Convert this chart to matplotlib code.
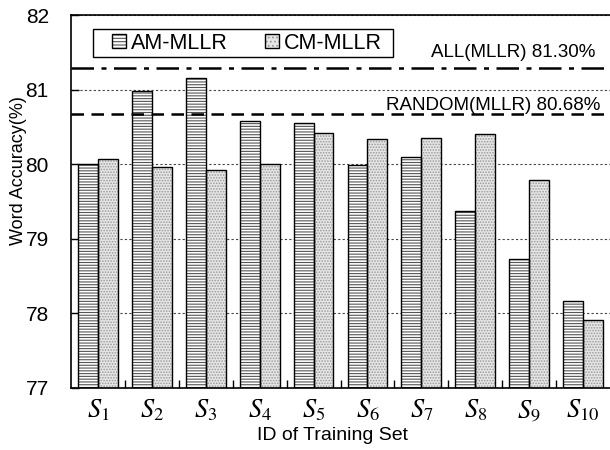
import matplotlib
matplotlib.use("Agg")
import matplotlib.pyplot as plt
from matplotlib.patches import Patch, Rectangle
from matplotlib.legend_handler import HandlerTuple
import numpy as np

plt.rcParams["font.family"] = ["Liberation Sans", "DejaVu Sans"]
plt.rcParams["mathtext.fontset"] = "stix"
plt.rcParams["hatch.linewidth"] = 0.8

# word accuracy (%) per training subset
sets = [r"$S_{%d}$" % i for i in range(1, 11)]
am_mllr = [80.01, 80.98, 81.16, 80.58, 80.56, 79.99, 80.10, 79.37, 78.73, 78.17]
cm_mllr = [80.07, 79.97, 79.92, 80.01, 80.42, 80.34, 80.36, 80.41, 79.79, 77.91]
all_mllr = 81.30
random_mllr = 80.68

ymin, ymax = 77, 82
x = np.arange(len(sets))
w = 0.37

fig = plt.figure(figsize=(6.1, 4.5), dpi=100)
ax = fig.add_axes([0.1164, 0.1378, 0.8836, 0.8278])

am_h = np.array(am_mllr) - ymin
cm_h = np.array(cm_mllr) - ymin

# fill + hatch first (grey hatch), then black outlines on top
ax.bar(x - w / 2, am_h, w, bottom=ymin, color="white", edgecolor="#555555",
       hatch="------", linewidth=0, zorder=2)
ax.bar(x + w / 2, cm_h, w, bottom=ymin, color="#e6e6e6", edgecolor="#9a9a9a",
       hatch="......", linewidth=0, zorder=2)
ax.bar(x - w / 2, am_h, w, bottom=ymin, fill=False, edgecolor="black",
       linewidth=1.0, zorder=3)
ax.bar(x + w / 2, cm_h, w, bottom=ymin, fill=False, edgecolor="black",
       linewidth=1.0, zorder=3)

# baselines
ax.axhline(all_mllr, color="black", lw=1.8, ls=(0, (9, 3, 2, 3)), zorder=4)
ax.axhline(random_mllr, color="black", lw=1.8, ls=(0, (5, 3)), zorder=4)
ax.text(0.972, all_mllr + 0.14, "ALL(MLLR) %.2f%%" % all_mllr,
        transform=ax.get_yaxis_transform(), ha="right", va="baseline", fontsize=13.5)
ax.text(0.983, random_mllr + 0.05, "RANDOM(MLLR) %.2f%%" % random_mllr,
        transform=ax.get_yaxis_transform(), ha="right", va="baseline", fontsize=13.5)

ax.set_xlim(-0.5, len(sets) - 0.5)
ax.set_ylim(ymin, ymax)
ax.set_yticks(range(ymin, ymax + 1))
ax.yaxis.grid(True, ls=(0, (2, 2)), color="#444444", lw=0.8, zorder=0)
ax.set_axisbelow(True)

ax.set_xticks(x)
ax.set_xticklabels(sets, fontsize=19)
ax.set_xticks(x[:-1] + 0.5, minor=True)
ax.tick_params(axis="x", which="major", length=0, pad=7)
ax.tick_params(axis="x", which="minor", direction="in", length=6, width=1)
ax.tick_params(axis="y", direction="in", length=6, width=1, pad=16, labelsize=15)

for s in ["left", "bottom", "top"]:
    ax.spines[s].set_linewidth(1.2)
ax.spines["right"].set_visible(False)

ax.set_xlabel("ID of Training Set", fontsize=14)
ax.xaxis.set_label_coords(0.486, -0.105)
ax.set_ylabel("Word Accuracy(%)", fontsize=13)
ax.yaxis.set_label_coords(-0.082, 0.585)

# legend: frame drawn separately so the entries can sit with a wider left margin
ax.add_patch(Rectangle((0.0403, 0.8878), 0.5566, 0.0768, transform=ax.transAxes,
                       facecolor="white", edgecolor="black", lw=1.0, zorder=5))
h_am = (Patch(facecolor="white", edgecolor="#555555", hatch="-----", lw=0),
        Patch(fill=False, edgecolor="black", lw=1))
h_cm = (Patch(facecolor="#e6e6e6", edgecolor="#9a9a9a", hatch="....", lw=0),
        Patch(fill=False, edgecolor="black", lw=1))
leg = ax.legend([h_am, h_cm], ["AM-MLLR", "CM-MLLR"],
                handler_map={tuple: HandlerTuple(ndivide=1)},
                loc="center left", bbox_to_anchor=(0.0761, 0.926),
                ncol=2, fontsize=15.5, frameon=False, borderaxespad=0,
                borderpad=0, handlelength=0.65, handleheight=0.65,
                handletextpad=0.25, columnspacing=1.7)
leg.set_zorder(6)

fig.savefig("out.png", dpi=100)
